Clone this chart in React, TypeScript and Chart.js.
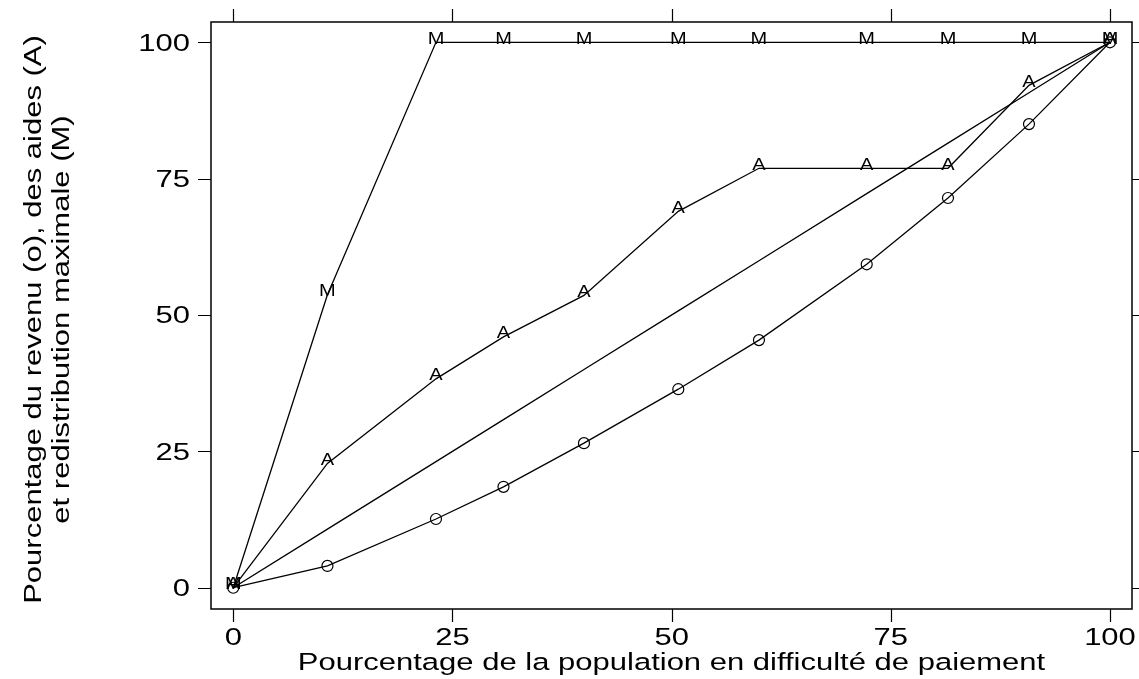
import React, { useEffect, useRef } from "react";
import { Chart, registerables } from "chart.js";

Chart.register(...registerables);

// Population share in payment difficulty (x, %)
const popShare = [0, 10.74, 23.12, 30.82, 40.0, 50.76, 59.96, 72.25, 81.52, 90.76, 100];
// Share of income (o)
const incomeShare = [0, 4.0, 12.6, 18.5, 26.5, 36.4, 45.4, 59.3, 71.45, 85.0, 100];
// Share of aid (A)
const aidShare = [0, 22.8, 38.3, 46.0, 53.6, 69.0, 76.9, 76.9, 76.9, 92.1, 100];
// Maximal redistribution (M)
const maxShare = [0, 53.7, 100, 100, 100, 100, 100, 100, 100, 100, 100];
// Equality line
const equalityShare = [0, 10.74, 23.12, 30.82, 40.0, 50.76, 59.96, 72.25, 81.52, 90.76, 100];

const xTicks = [0, 25, 50, 75, 100];
const yTicks = [0, 25, 50, 75, 100];
const xTitle = "Pourcentage de la population en difficulté de paiement";
const yTitleLines = ["Pourcentage du revenu (o), des aides (A)", "et redistribution maximale (M)"];

const FONT = '"Liberation Sans", Arial, Helvetica, sans-serif';

function toPoints(ys: number[]) {
  return popShare.map((x, i) => ({ x, y: ys[i] }));
}

function drawText(
  ctx: CanvasRenderingContext2D,
  text: string,
  x: number,
  y: number,
  size: number,
  sy: number,
  align: CanvasTextAlign,
  rot = 0
) {
  ctx.save();
  ctx.translate(x, y);
  if (rot) ctx.rotate(rot);
  ctx.scale(1, sy);
  ctx.font = `${size}px ${FONT}`;
  ctx.textAlign = align;
  ctx.textBaseline = "alphabetic";
  ctx.fillStyle = "#000";
  ctx.fillText(text, 0, 0);
  ctx.restore();
}

const framePlugin = {
  id: "stataFrame",
  afterDatasetsDraw(chart: any) {
    const ctx: CanvasRenderingContext2D = chart.ctx;
    const ca = chart.chartArea;
    const xs = chart.scales.x;
    const ys = chart.scales.y;

    // letter markers
    chart.data.datasets.forEach((ds: any, i: number) => {
      if (!ds.letter) return;
      const meta = chart.getDatasetMeta(i);
      meta.data.forEach((pt: any) => {
        drawText(ctx, ds.letter, pt.x, pt.y + 1.5, 20, 0.8, "center");
      });
    });

    ctx.save();
    ctx.strokeStyle = "#000";
    ctx.lineWidth = 1.5;
    ctx.strokeRect(ca.left, ca.top, ca.right - ca.left, ca.bottom - ca.top);
    const tl = 13;
    ctx.lineWidth = 1.2;
    ctx.beginPath();
    xTicks.forEach((v) => {
      const px = Math.round(xs.getPixelForValue(v)) + 0.5;
      ctx.moveTo(px, ca.bottom);
      ctx.lineTo(px, ca.bottom + tl);
      ctx.moveTo(px, ca.top);
      ctx.lineTo(px, ca.top - tl);
    });
    yTicks.forEach((v) => {
      const py = Math.round(ys.getPixelForValue(v)) + 0.5;
      ctx.moveTo(ca.left, py);
      ctx.lineTo(ca.left - tl, py);
      ctx.moveTo(ca.right, py);
      ctx.lineTo(ca.right + tl, py);
    });
    ctx.stroke();
    ctx.restore();

    // tick labels
    xTicks.forEach((v) => {
      drawText(ctx, String(v), xs.getPixelForValue(v), 644.5, 31, 0.76, "center");
    });
    yTicks.forEach((v) => {
      drawText(ctx, String(v), 190, ys.getPixelForValue(v) + 8.4, 31, 0.76, "right");
    });

    // axis titles
    const cx = (ca.left + ca.right) / 2;
    drawText(ctx, xTitle, cx, 670, 31, 0.76, "center");
    const cy = (ca.top + ca.bottom) / 2 + 4;
    drawText(ctx, yTitleLines[0], 41, cy, 31, 0.76, "center", -Math.PI / 2);
    drawText(ctx, yTitleLines[1], 69, cy, 31, 0.76, "center", -Math.PI / 2);
  },
};

export default function App() {
  const ref = useRef<HTMLCanvasElement>(null);
  useEffect(() => {
    const lineBase = {
      showLine: true,
      borderColor: "#000",
      borderWidth: 1.3,
      tension: 0,
      fill: false,
    };
    const chart = new Chart(ref.current!, {
      type: "scatter",
      data: {
        datasets: [
          {
            ...lineBase,
            label: "Revenu (o)",
            data: toPoints(incomeShare),
            pointStyle: "circle",
            pointRadius: 5.5,
            pointBorderWidth: 1.2,
            pointBorderColor: "#000",
            pointBackgroundColor: "rgba(0,0,0,0)",
          },
          {
            ...lineBase,
            label: "Égalité",
            data: toPoints(equalityShare),
            pointRadius: 0,
          },
          {
            ...lineBase,
            label: "Aides (A)",
            data: toPoints(aidShare),
            pointRadius: 0,
            letter: "A",
          } as any,
          {
            ...lineBase,
            label: "Redistribution maximale (M)",
            data: toPoints(maxShare),
            pointRadius: 0,
            letter: "M",
          } as any,
        ],
      },
      options: {
        animation: false,
        responsive: false,
        devicePixelRatio: 1,
        layout: { padding: { left: 211, right: 7, top: 22, bottom: 70 } },
        plugins: {
          legend: { display: false },
          tooltip: { enabled: false },
        },
        scales: {
          x: { type: "linear", min: -2.54, max: 102.51, display: false },
          y: { type: "linear", min: -3.9, max: 103.72, display: false },
        },
      },
      plugins: [framePlugin],
    });
    return () => chart.destroy();
  }, []);
  return (
    <canvas
      ref={ref}
      width={1139}
      height={679}
      style={{ position: "absolute", left: 0, top: 0, width: 1139, height: 679, background: "#fff" }}
    />
  );
}
